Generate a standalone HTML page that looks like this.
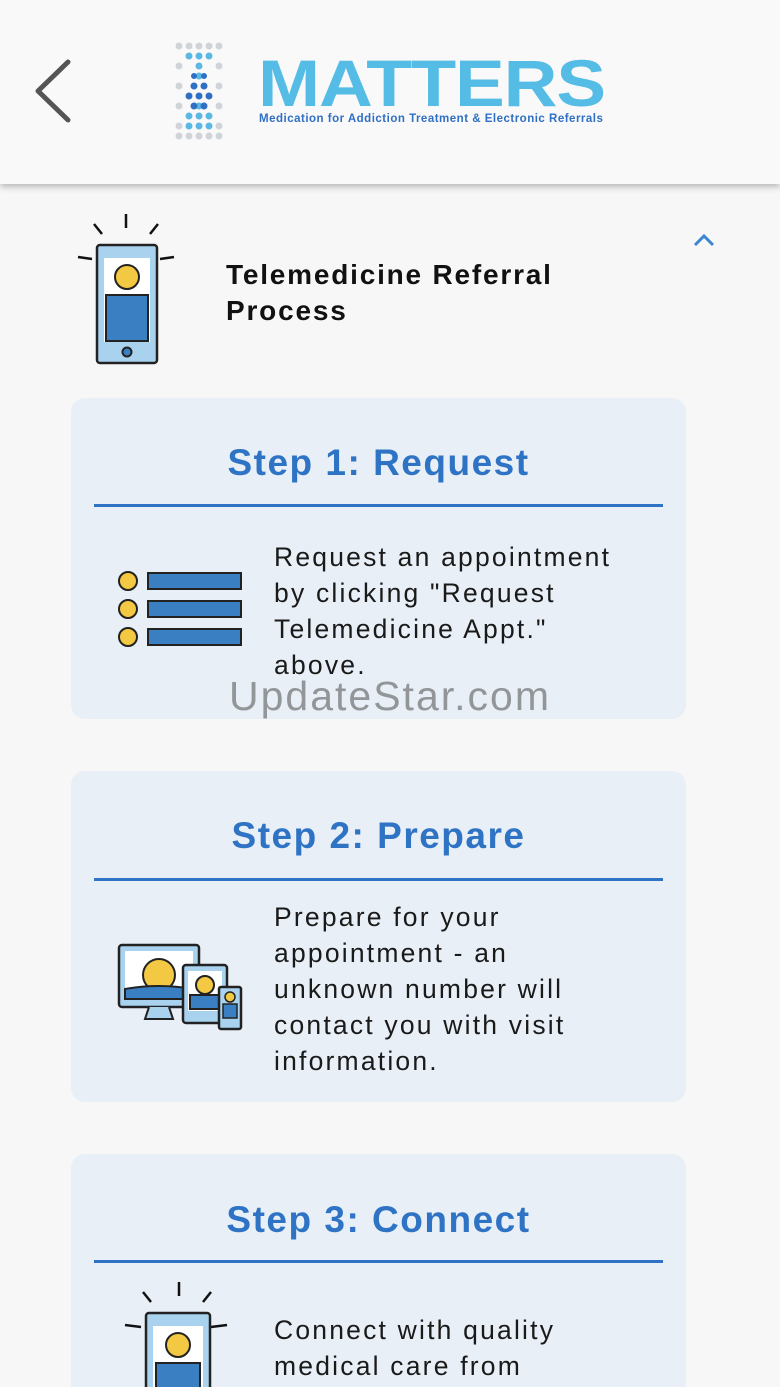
<!DOCTYPE html>
<html style="overflow:hidden;height:1387px"><head><meta charset="utf-8"><style>
body{margin:0;width:780px;height:1387px;overflow:hidden;background:#f7f7f7;font-family:"Liberation Sans",sans-serif;position:relative}
.hdr{position:absolute;left:0;top:0;width:780px;height:184px;background:#f9f9f9;box-shadow:0 3px 6px rgba(0,0,0,.25)}
.card{position:absolute;left:71px;width:615px;background:#e8eff6;border-radius:14px}
.t{position:absolute;left:0;width:100%;text-align:center;color:#2f73c4;font-weight:bold;font-size:37px;letter-spacing:1.5px}
.ln{position:absolute;left:23px;width:569px;height:3px;background:#2f73c4}
.tx{position:absolute;left:203px;font-size:26.5px;line-height:36px;color:#1a1a1a;letter-spacing:2.2px;white-space:nowrap}
</style></head><body>
<div class="hdr">
<svg style="position:absolute;left:30px;top:58px" width="44" height="66"><path d="M38 4 L8 33 L38 62" fill="none" stroke="#555" stroke-width="5" stroke-linecap="round" stroke-linejoin="round"/></svg>
<svg style="position:absolute;left:172px;top:42px" width="60" height="98">
<g fill="#d0d3d8">
<circle cx="7" cy="4" r="3.5"/><circle cx="17" cy="4" r="3.5"/><circle cx="27" cy="4" r="3.5"/><circle cx="37" cy="4" r="3.5"/><circle cx="47" cy="4" r="3.5"/>
<circle cx="7" cy="94" r="3.5"/><circle cx="17" cy="94" r="3.5"/><circle cx="27" cy="94" r="3.5"/><circle cx="37" cy="94" r="3.5"/><circle cx="47" cy="94" r="3.5"/>
<circle cx="7" cy="24" r="3.5"/><circle cx="47" cy="24" r="3.5"/><circle cx="7" cy="44" r="3.5"/><circle cx="47" cy="44" r="3.5"/><circle cx="7" cy="64" r="3.5"/><circle cx="47" cy="64" r="3.5"/><circle cx="7" cy="84" r="3.5"/><circle cx="47" cy="84" r="3.5"/></g>
<g fill="#5bb8e4"><circle cx="17" cy="14" r="3.5"/><circle cx="27" cy="14" r="3.5"/><circle cx="37" cy="14" r="3.5"/><circle cx="27" cy="24" r="3.5"/><circle cx="27" cy="34" r="3.5"/><circle cx="17" cy="74" r="3.5"/><circle cx="27" cy="74" r="3.5"/><circle cx="37" cy="74" r="3.5"/><circle cx="17" cy="84" r="3.5"/><circle cx="27" cy="84" r="3.5"/><circle cx="37" cy="84" r="3.5"/><circle cx="27" cy="64" r="3.5"/></g>
<g fill="#2f6fc4"><circle cx="22" cy="44" r="3.5"/><circle cx="32" cy="44" r="3.5"/><circle cx="17" cy="54" r="3.5"/><circle cx="27" cy="54" r="3.5"/><circle cx="37" cy="54" r="3.5"/><circle cx="22" cy="34" r="3"/><circle cx="32" cy="34" r="3"/><circle cx="22" cy="64" r="3.5"/><circle cx="32" cy="64" r="3.5"/></g>
</svg>
<div style="position:absolute;left:258px;top:50px;font-size:66px;font-weight:900;color:#55bce6;letter-spacing:-1px;line-height:66px;transform:scaleX(1.13);transform-origin:left">MATTERS</div>
<div style="position:absolute;left:259px;top:113px;font-size:11.5px;font-weight:bold;color:#2f6fc4;white-space:nowrap;letter-spacing:.5px">Medication for Addiction Treatment &amp; Electronic Referrals</div>
</div>

<svg style="position:absolute;left:74px;top:212px" width="106" height="155" viewBox="0 0 106 155">
<g stroke="#111" stroke-width="2.5"><line x1="52" y1="2" x2="52" y2="16"/><line x1="20" y1="12" x2="28" y2="22"/><line x1="84" y1="12" x2="76" y2="22"/><line x1="4" y1="45" x2="18" y2="47"/><line x1="100" y1="45" x2="86" y2="47"/></g>
<rect x="23" y="33" width="60" height="118" rx="3" fill="#a9d2ee" stroke="#222" stroke-width="2.5"/>
<rect x="30" y="46" width="46" height="84" fill="#fff"/>
<rect x="32" y="83" width="42" height="46" fill="#3a7fc2" stroke="#222" stroke-width="2"/>
<circle cx="53" cy="65" r="12" fill="#f3c842" stroke="#222" stroke-width="2"/>
<circle cx="53" cy="140" r="4.5" fill="#3a7fc2" stroke="#222" stroke-width="2"/>
</svg>
<div style="position:absolute;left:226px;top:257px;font-size:28px;font-weight:bold;line-height:36px;color:#111;letter-spacing:1.8px;white-space:nowrap">Telemedicine Referral<br>Process</div>
<svg style="position:absolute;left:692px;top:232px" width="26" height="16"><path d="M3 13 L12 4 L21 13" fill="none" stroke="#3a86d4" stroke-width="3"/></svg>

<div class="card" style="top:398px;height:321px">
<div class="t" style="top:44px">Step 1: Request</div>
<div class="ln" style="top:106px"></div>
<svg style="position:absolute;left:46px;top:172px" width="126" height="80">
<g fill="#f3c842" stroke="#222" stroke-width="2"><circle cx="11" cy="11" r="9"/><circle cx="11" cy="39" r="9"/><circle cx="11" cy="67" r="9"/></g>
<g fill="#3a7fc2" stroke="#222" stroke-width="2"><rect x="31" y="3" width="93" height="16"/><rect x="31" y="31" width="93" height="16"/><rect x="31" y="59" width="93" height="16"/></g>
</svg>
<div class="tx" style="top:141px">Request an appointment<br>by clicking "Request<br>Telemedicine Appt."<br>above.</div>
</div>
<div style="position:absolute;left:229px;top:673px;font-size:41px;color:#8a8d90;opacity:.9;letter-spacing:2px">UpdateStar.com</div>

<div class="card" style="top:771px;height:331px">
<div class="t" style="top:44px">Step 2: Prepare</div>
<div class="ln" style="top:107px"></div>
<svg style="position:absolute;left:45px;top:172px" width="128" height="88" viewBox="16 12 126 88">
<rect x="18" y="14" width="80" height="62" rx="3" fill="#a9d2ee" stroke="#222" stroke-width="2.5"/>
<rect x="24" y="20" width="68" height="44" fill="#fff"/>
<circle cx="58" cy="44" r="16" fill="#f3c842" stroke="#222" stroke-width="2"/>
<path d="M24 58 Q58 52 92 58 L92 68 L24 68Z" fill="#3a7fc2" stroke="#222" stroke-width="2"/>
<path d="M48 76 L44 88 L72 88 L68 76" fill="#a9d2ee" stroke="#222" stroke-width="2"/>
<rect x="82" y="34" width="44" height="58" rx="3" fill="#a9d2ee" stroke="#222" stroke-width="2.5"/>
<rect x="87" y="40" width="34" height="40" fill="#fff"/>
<circle cx="104" cy="54" r="9" fill="#f3c842" stroke="#222" stroke-width="2"/>
<rect x="89" y="64" width="30" height="14" fill="#3a7fc2" stroke="#222" stroke-width="2"/>
<rect x="118" y="56" width="22" height="42" rx="2" fill="#a9d2ee" stroke="#222" stroke-width="2.5"/>
<circle cx="129" cy="66" r="5" fill="#f3c842" stroke="#222" stroke-width="1.5"/>
<rect x="122" y="73" width="14" height="14" fill="#3a7fc2" stroke="#222" stroke-width="1.5"/>
</svg>
<div class="tx" style="top:128px">Prepare for your<br>appointment - an<br>unknown number will<br>contact you with visit<br>information.</div>
</div>

<div class="card" style="top:1154px;height:233px;border-radius:14px 14px 0 0;overflow:hidden">
<div class="t" style="top:45px">Step 3: Connect</div>
<div class="ln" style="top:106px"></div>
<svg style="position:absolute;left:52px;top:126px" width="106" height="155" viewBox="0 0 106 155">
<g stroke="#111" stroke-width="2.5"><line x1="56" y1="2" x2="56" y2="16"/><line x1="20" y1="12" x2="28" y2="22"/><line x1="88" y1="12" x2="80" y2="22"/><line x1="2" y1="45" x2="18" y2="47"/><line x1="104" y1="45" x2="88" y2="47"/></g>
<rect x="23" y="33" width="64" height="118" rx="3" fill="#a9d2ee" stroke="#222" stroke-width="2.5"/>
<rect x="30" y="46" width="50" height="84" fill="#fff"/>
<circle cx="55" cy="65" r="12" fill="#f3c842" stroke="#222" stroke-width="2"/>
<rect x="33" y="83" width="44" height="46" fill="#3a7fc2" stroke="#222" stroke-width="2"/>
</svg>
<div class="tx" style="top:158px">Connect with quality<br>medical care from</div>
</div>
</body></html>
